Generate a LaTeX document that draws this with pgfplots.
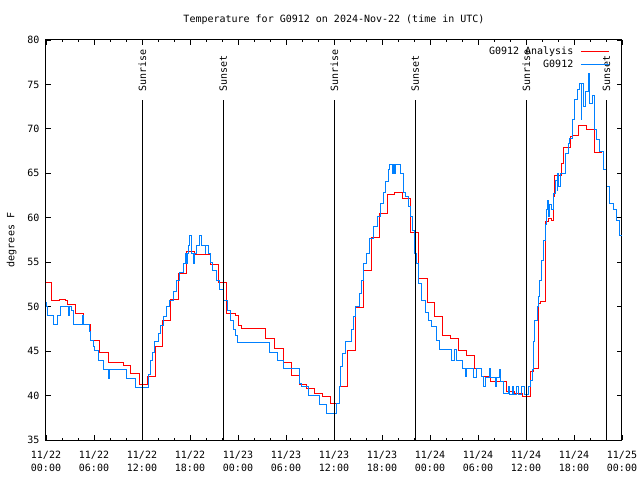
\documentclass[border=0pt]{standalone}
\usepackage{fontspec}
\setmainfont{DejaVu Sans Mono}
\usepackage{pgfplots}
\pgfplotsset{compat=1.18}
\definecolor{anared}{RGB}{255,0,0}
\definecolor{obsblue}{RGB}{0,128,255}
\begin{document}
\begin{tikzpicture}
\begin{axis}[
  at={(0,0)}, anchor=south west,
  scale only axis, width=576pt, height=400pt,
  xmin=0, xmax=72, ymin=35, ymax=80,
  font=\fontsize{10}{13}\selectfont,
  /pgf/number format/assume math mode=true,
  axis line style={line width=1pt},
  tick style={line width=0.8pt, black},
  major tick length=5pt, minor tick length=2.5pt,
  tick pos=both, tick align=inside,
  xtick={0,6,...,72}, minor x tick num=2,
  xticklabels={{11/22\\00:00},{11/22\\06:00},{11/22\\12:00},{11/22\\18:00},{11/23\\00:00},{11/23\\06:00},{11/23\\12:00},{11/23\\18:00},{11/24\\00:00},{11/24\\06:00},{11/24\\12:00},{11/24\\18:00},{11/25\\00:00}},
  xticklabel style={align=center, font=\fontsize{10}{13}\selectfont, yshift=-7.5pt},
  ytick={35,40,...,80},
  yticklabel style={xshift=-3pt},
  ylabel={degrees F},
  ylabel style={at={(axis description cs:-0.0596,0.5)}, anchor=center, rotate=0},
  title={Temperature for G0912 on 2024-Nov-22 (time in UTC)},
  title style={at={(axis description cs:0.5,1.036)}, anchor=center},
  legend plot pos=right,
  legend cell align=right,
  legend image code/.code={\draw[#1] (0pt,0pt) -- (28pt,0pt);},
  legend style={at={(axis description cs:0.9783,0.9875)}, anchor=north east, draw=none, fill=none, inner sep=0pt, row sep=0pt, font=\fontsize{10}{12}\selectfont},
]
\addplot[const plot, anared, line width=1pt] coordinates {
(0,52.74) (0.7,50.7) (1.7,50.8) (2.5,50.7) (2.7,50.2) (3.7,49.25) (4.7,48.0) (5.6,46.2) (6.7,44.86) (7.8,43.74) (9.7,43.4) (10.6,42.5) (11.7,41.26) (12.7,42.2) (13.7,45.5) (14.6,48.4) (15.6,50.8) (16.6,53.7) (17.6,56.2) (18.6,55.9) (20.6,54.8) (21.6,52.7) (22.6,49.25) (23.7,49.0) (24.1,47.9) (24.5,47.5) (25.7,47.6) (26.6,47.5) (27.5,46.4) (28.6,45.24) (29.7,43.74) (30.7,42.24) (31.7,41.3) (32.6,40.8) (33.6,40.25) (34.6,39.95) (35.6,39.13) (36.7,41.07) (37.7,45.1) (38.7,49.9) (39.7,54.1) (40.7,57.8) (41.7,60.5) (42.7,62.67) (43.6,62.86) (44.6,62.19) (45.6,58.4) (46.6,53.2) (47.7,50.45) (48.6,48.9) (49.6,46.8) (50.6,46.44) (51.6,45.05) (52.6,44.56) (53.6,43.06) (54.5,42.1) (55.6,41.56) (57.6,40.5) (58.6,40.25) (59.6,39.95) (60.6,42.7) (60.9,43.06) (61.6,50.4) (61.8,50.56) (62.4,51.1) (62.5,59.56) (62.8,59.94) (63.2,59.75) (63.5,62.4) (63.6,64.8) (64.5,66.1) (64.7,67.9) (65.6,69.1) (65.8,69.3) (66.6,70.4) (67.6,69.9) (68.6,67.36) (69.5,67.36)
};
\addlegendentry{G0912 Analysis\kern5pt}
\addplot[const plot, obsblue, line width=1pt] coordinates {
(0,50.5) (0.08,50.0) (0.17,49.06) (0.92,48.0) (1.42,49.06) (1.83,50.07) (2.8,49.06) (3.0,50.07) (3.2,49.6) (3.4,48.0) (4.58,49.06) (4.67,48.0) (5.4,47.2) (5.6,46.25) (5.9,45.5) (6.1,45.1) (6.6,44.0) (7.2,43.6) (7.25,42.95) (7.8,41.9) (7.9,42.95) (10.1,41.9) (11.25,40.9) (12.85,42.4) (13.1,44.0) (13.3,44.9) (13.6,46.06) (14.1,47.0) (14.3,47.9) (14.75,48.9) (15.08,50.0) (15.5,50.75) (15.9,51.7) (16.3,53.0) (16.75,53.9) (17.2,54.9) (17.5,56.0) (17.6,54.9) (17.7,56.0) (17.8,56.9) (18.0,58.06) (18.2,56.0) (18.4,54.9) (18.6,56.0) (18.8,56.9) (19.2,58.06) (19.5,56.9) (19.9,56.0) (20.0,56.9) (20.3,56.0) (20.6,55.0) (20.8,54.1) (21.3,53.0) (21.75,51.9) (22.2,50.75) (22.7,49.6) (23.1,48.5) (23.4,47.4) (23.7,46.8) (23.9,46.0) (27.9,44.9) (29.0,44.0) (29.7,43.0) (31.75,41.4) (32.0,41.0) (32.8,40.06) (34.25,39.05) (35.1,38.0) (36.3,39.1) (36.67,41.0) (36.8,43.25) (37.1,44.75) (37.4,46.06) (38.2,47.4) (38.5,48.9) (38.75,50.0) (39.2,51.5) (39.46,53.0) (39.75,54.9) (40.08,56.0) (40.5,57.7) (40.9,59.0) (41.5,60.1) (41.8,61.6) (42.2,62.9) (42.5,64.06) (42.8,65.4) (43.0,65.94) (43.3,65.0) (43.4,65.94) (43.6,65.0) (43.7,65.94) (44.3,65.0) (44.67,62.9) (45.0,62.4) (45.3,61.25) (45.6,60.1) (45.8,58.6) (46.1,56.0) (46.3,54.9) (46.6,52.6) (46.96,50.75) (47.5,49.4) (47.8,48.5) (48.2,47.75) (48.8,46.25) (49.2,45.15) (50.7,44.0) (51.1,45.15) (51.3,44.0) (52.1,43.1) (52.5,42.1) (52.6,43.1) (53.4,42.0) (53.8,43.0) (54.5,42.1) (54.7,41.0) (54.9,42.0) (55.5,43.0) (55.6,42.0) (56.2,41.0) (56.3,42.0) (56.75,42.9) (56.85,41.56) (57.2,40.25) (57.8,41.0) (58.0,40.1) (58.3,41.0) (58.5,40.1) (58.8,41.0) (59.1,40.1) (59.5,41.0) (59.8,40.1) (60.3,41.0) (60.6,41.75) (60.8,42.9) (60.9,46.06) (61.1,48.5) (61.4,50.0) (61.6,51.1) (61.75,53.0) (62.0,55.25) (62.2,57.5) (62.4,59.2) (62.6,60.9) (62.7,62.0) (62.8,60.1) (62.9,61.5) (63.2,60.9) (63.4,62.75) (63.75,64.25) (63.9,63.1) (64.0,65.0) (64.1,63.5) (64.3,65.0) (64.9,67.25) (65.3,68.4) (65.5,68.9) (65.8,71.0) (66.1,73.25) (66.5,74.4) (66.75,75.1) (66.9,71.0) (67.0,75.1) (67.2,72.5) (67.5,74.2) (67.8,76.25) (68.0,72.9) (68.3,73.8) (68.6,69.9) (68.8,68.75) (69.2,67.4) (69.75,65.4) (70.1,63.5) (70.5,61.6) (70.9,60.9) (71.3,59.75) (71.7,58.06) (72,57.95)
};
\addlegendentry{G0912\kern5pt}
\addplot[black, line width=1pt, forget plot] coordinates {(12.04,35) (12.04,73.25)};
\addplot[black, line width=1pt, forget plot] coordinates {(22.15,35) (22.15,73.25)};
\addplot[black, line width=1pt, forget plot] coordinates {(36.04,35) (36.04,73.25)};
\addplot[black, line width=1pt, forget plot] coordinates {(46.15,35) (46.15,73.25)};
\addplot[black, line width=1pt, forget plot] coordinates {(60.04,35) (60.04,73.25)};
\addplot[black, line width=1pt, forget plot] coordinates {(70.05,35) (70.05,73.25)};
\node[rotate=90, anchor=west, inner sep=0pt] at (axis cs:12.04,74.15) {Sunrise};
\node[rotate=90, anchor=west, inner sep=0pt] at (axis cs:22.15,74.15) {Sunset};
\node[rotate=90, anchor=west, inner sep=0pt] at (axis cs:36.04,74.15) {Sunrise};
\node[rotate=90, anchor=west, inner sep=0pt] at (axis cs:46.15,74.15) {Sunset};
\node[rotate=90, anchor=west, inner sep=0pt] at (axis cs:60.04,74.15) {Sunrise};
\node[rotate=90, anchor=west, inner sep=0pt] at (axis cs:70.05,74.15) {Sunset};
\end{axis}
\pgfresetboundingbox
\path[use as bounding box] (-46pt,-40pt) rectangle (594pt,440pt);
\end{tikzpicture}
\end{document}
